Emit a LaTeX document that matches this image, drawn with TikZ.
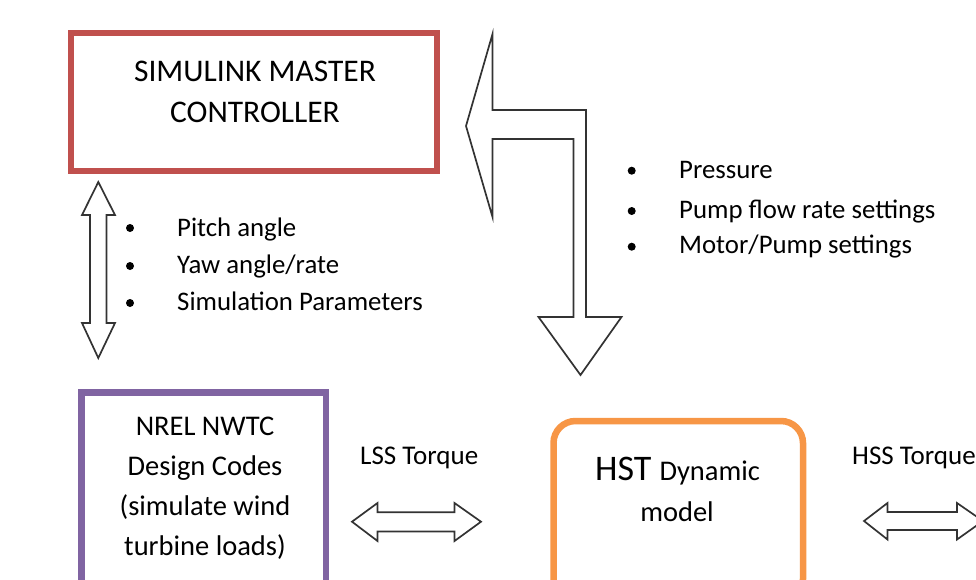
\documentclass[tikz,border=0pt]{standalone}
\usepackage{fontspec}
\setmainfont{Carlito}
\definecolor{boxred}{HTML}{C0504D}
\definecolor{boxpurple}{HTML}{8064A2}
\definecolor{boxorange}{HTML}{F79646}
\definecolor{arrowgray}{HTML}{333333}
\begin{document}
\begin{tikzpicture}[x=1pt,y=-1pt,
  boxframe/.style={draw, line width=6.5pt, inner sep=0pt, fill=white},
  blockarrow/.style={draw=arrowgray, line width=1.7pt, fill=white, line join=miter},
  bigtext/.style={font=\fontsize{31.5}{36}\selectfont, anchor=base, inner sep=0pt},
  boxtext/.style={font=\fontsize{28.5}{34}\selectfont, anchor=base, inner sep=0pt},
  bullettext/.style={font=\fontsize{26.8}{32}\selectfont, anchor=base west, inner sep=0pt},
  labeltext/.style={font=\fontsize{27}{32}\selectfont, anchor=base west, inner sep=0pt},
  bulletdot/.style={circle, fill=black, inner sep=0pt, minimum size=8pt}]
\useasboundingbox (0,0) rectangle (976,579);
\clip (0,0) rectangle (976,579);

% boxes
\node[boxframe, draw=boxred, minimum width=366pt, minimum height=138pt] (master) at (254,102) {};
\node[boxframe, draw=boxpurple, minimum width=244.5pt, minimum height=215pt] (nrel) at (203.75,500) {};
\node[boxframe, draw=boxorange, rounded corners=22pt, minimum width=249.5pt, minimum height=180pt] (hst) at (678.25,511) {};

% box texts
\node[bigtext] (m1) at (255,81) {SIMULINK MASTER};
\node[bigtext] (m2) at (255,122) {CONTROLLER};
\node[boxtext] (n1) at (205,435) {NREL NWTC};
\node[boxtext] (n2) at (205,475) {Design Codes};
\node[boxtext] (n3) at (205,515) {(simulate wind};
\node[boxtext] (n4) at (205,555) {turbine loads)};
\node[anchor=base, inner sep=0pt] (h1) at (677.5,480) {\fontsize{36}{40}\selectfont HST \fontsize{28.5}{34}\selectfont Dynamic};
\node[boxtext] (h2) at (677,521) {model};

% left vertical double arrow
\coordinate (vtop) at (98.3,182);
\coordinate (vbot) at (98.3,358);
\draw[blockarrow] (vtop) -- (115,215) -- (106.5,215) -- (106.5,323) -- (115,323) -- (vbot)
  -- (82,323) -- (90,323) -- (90,215) -- (82,215) -- cycle;

% big bent arrow
\coordinate (btip) at (466,126);
\coordinate (dtip) at (580.5,375);
\draw[blockarrow] (btip) -- (492.5,34) -- (492.5,110) -- (586,110) -- (586,317) -- (621.5,317)
  -- (dtip) -- (538.5,317) -- (573.5,317) -- (573.5,139) -- (492.5,139) -- (492.5,217) -- cycle;

% LSS double arrow
\coordinate (lssl) at (352,521.7);
\coordinate (lssr) at (481,521.7);
\draw[blockarrow] (lssl) -- (377.5,503) -- (377.5,512.3) -- (454.5,512.3) -- (454.5,503) -- (lssr)
  -- (454.5,541) -- (454.5,531.5) -- (377.5,531.5) -- (377.5,541) -- cycle;

% HSS double arrow
\coordinate (hssl) at (864,521);
\coordinate (hssr) at (983,521);
\draw[blockarrow] (hssl) -- (887.5,503) -- (887.5,512) -- (957,512) -- (957,503) -- (hssr)
  -- (957,539.5) -- (957,530) -- (887.5,530) -- (887.5,539.5) -- cycle;

% left bullets
\node[bulletdot] (lb1) at (130,228) {};
\node[bulletdot] (lb2) at (130,266) {};
\node[bulletdot] (lb3) at (130,303) {};
\node[bullettext] (lt1) at (177,236) {Pitch angle};
\node[bullettext] (lt2) at (177,273) {Yaw angle/rate};
\node[bullettext] (lt3) at (177,310) {Simulation Parameters};

% right bullets
\node[bulletdot] (rb1) at (631.7,170.7) {};
\node[bulletdot] (rb2) at (631.7,211) {};
\node[bulletdot] (rb3) at (631.7,246.7) {};
\node[bullettext] (rt1) at (679,178) {Pressure};
\node[bullettext] (rt2) at (679,218) {Pump flow rate settings};
\node[bullettext] (rt3) at (679,253) {Motor/Pump settings};

% torque labels
\node[labeltext] (lss) at (360,464) {LSS Torque};
\node[labeltext] (hss) at (852,464) {HSS Torque};
\end{tikzpicture}
\end{document}
